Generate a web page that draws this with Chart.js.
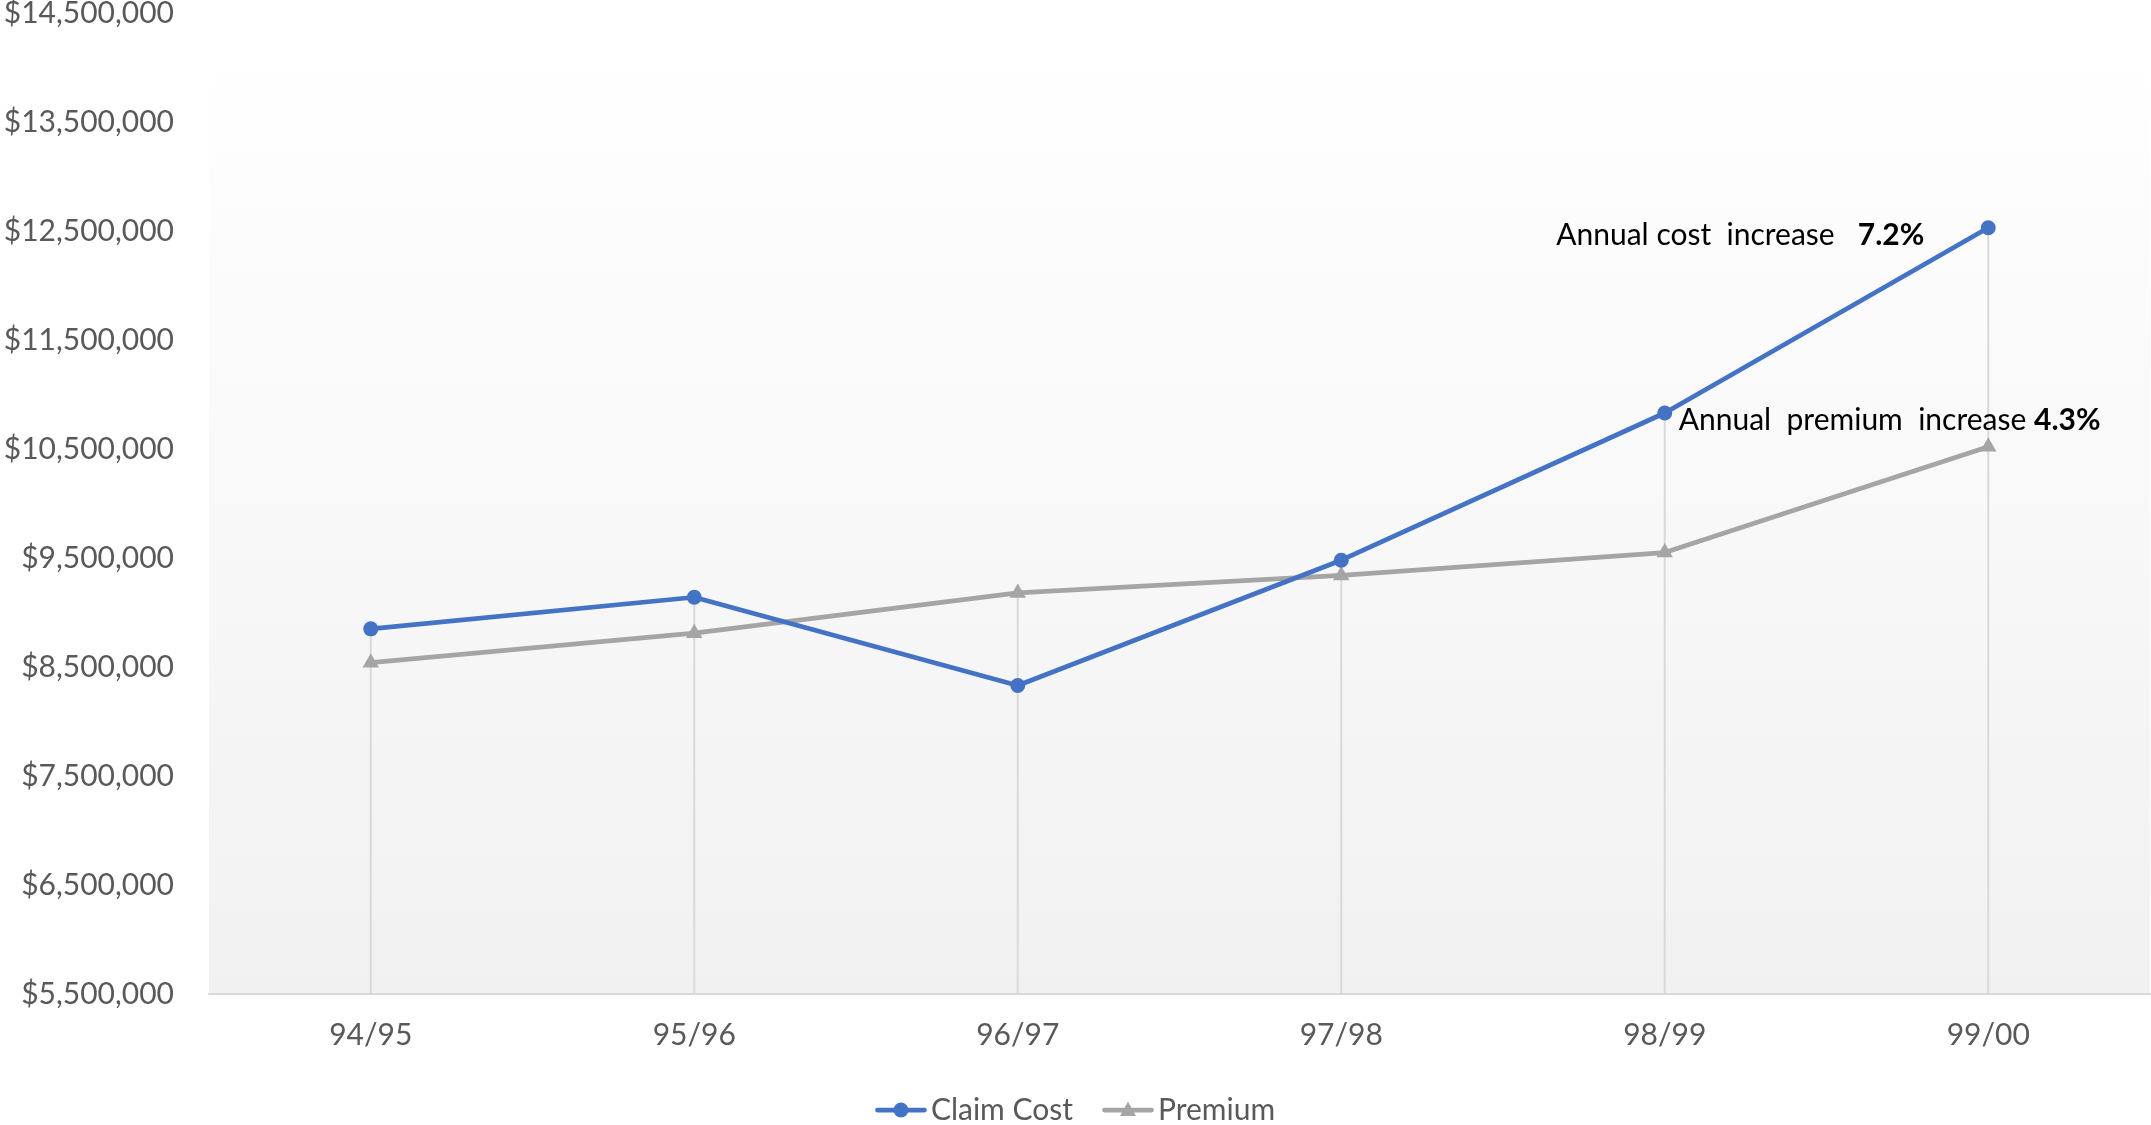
<!DOCTYPE html>
<html>
<head>
<meta charset="utf-8">
<script src="https://cdn.jsdelivr.net/npm/chart.js@4.4.1/dist/chart.umd.min.js"></script>
<style>
  html, body { margin: 0; padding: 0; background: #ffffff; }
  #wrap { width: 2151px; height: 1125px; position: relative; }
</style>
</head>
<body>
<div id="wrap"><canvas id="c" width="2151" height="1125"></canvas></div>
<script>
// ---- Data ----
const categories = ['94/95', '95/96', '96/97', '97/98', '98/99', '99/00'];
const claimCost = [8850000, 9140000, 8330000, 9480000, 10830000, 12530000];
const premium = [8540000, 8810000, 9180000, 9340000, 9550000, 10520000];
const seriesNames = ['Claim Cost', 'Premium'];
const yTickValues = [5500000, 6500000, 7500000, 8500000, 9500000, 10500000, 11500000, 12500000, 13500000, 14500000];
const costNote = ['Annual cost  increase   ', '7.2%'];
const premiumNote = ['Annual  premium  increase ', '4.3%'];

// ---- Styles ----
const BLUE = '#4472C4';
const GRAY = '#A5A5A5';
const FONT = 'Lato, "Open Sans", sans-serif';
const FS = 30;

function makeIcon(color, shape) {
  const c = document.createElement('canvas');
  c.width = 52; c.height = 22;
  const g = c.getContext('2d');
  g.strokeStyle = color; g.lineWidth = 4.75; g.lineCap = 'round';
  g.beginPath(); g.moveTo(2.5, 11); g.lineTo(49.5, 11); g.stroke();
  g.fillStyle = color;
  g.beginPath();
  if (shape === 'circle') {
    g.arc(26, 11, 7.5, 0, Math.PI * 2);
  } else {
    g.moveTo(26, 2.5); g.lineTo(34, 17); g.lineTo(18, 17); g.closePath();
  }
  g.fill();
  return c;
}
const legendIcons = [makeIcon(BLUE, 'circle'), makeIcon(GRAY, 'triangle')];

const bgPlugin = {
  id: 'bgGradient',
  afterLayout(chart) {
    if (chart.legend) { chart.legend.left += 5; chart.legend.right += 5; }
  },
  beforeDraw(chart) {
    const {ctx, chartArea: a} = chart;
    const grd = ctx.createLinearGradient(0, a.top, 0, a.bottom);
    grd.addColorStop(0, '#ffffff');
    grd.addColorStop(0.11, '#fefefe');
    grd.addColorStop(1, '#f1f1f1');
    ctx.save();
    ctx.fillStyle = grd;
    ctx.fillRect(a.left, a.top, a.right - a.left, a.bottom - a.top);
    ctx.restore();
  }
};

const dropLinePlugin = {
  id: 'dropLines',
  beforeDatasetsDraw(chart) {
    const {ctx, chartArea: a} = chart;
    const m0 = chart.getDatasetMeta(0).data;
    const m1 = chart.getDatasetMeta(1).data;
    ctx.save();
    ctx.strokeStyle = '#d9d9d9';
    ctx.lineWidth = 2;
    for (let i = 0; i < m0.length; i++) {
      const top = Math.min(m0[i].y, m1[i].y);
      ctx.beginPath();
      ctx.moveTo(m0[i].x, top);
      ctx.lineTo(m0[i].x, a.bottom);
      ctx.stroke();
    }
    ctx.restore();
  }
};

function drawRich(ctx, parts, x, y, align) {
  ctx.font = FS + 'px ' + FONT;
  const w0 = ctx.measureText(parts[0]).width;
  ctx.font = 'bold ' + FS + 'px ' + FONT;
  const w1 = ctx.measureText(parts[1]).width;
  const sx = align === 'right' ? x - (w0 + w1) : x;
  ctx.textBaseline = 'middle';
  ctx.textAlign = 'left';
  ctx.fillStyle = '#000000';
  ctx.font = FS + 'px ' + FONT;
  ctx.fillText(parts[0], sx, y);
  ctx.font = 'bold ' + FS + 'px ' + FONT;
  ctx.fillText(parts[1], sx + w0, y);
}

const notePlugin = {
  id: 'notes',
  afterDatasetsDraw(chart) {
    const {ctx} = chart;
    const d0 = chart.getDatasetMeta(0).data;
    const last = d0[d0.length - 1];
    const prev = d0[d0.length - 2];
    ctx.save();
    drawRich(ctx, costNote, last.x - 64, last.y + 8, 'right');
    drawRich(ctx, premiumNote, prev.x + 14, prev.y + 7, 'left');
    ctx.restore();
  }
};

new Chart(document.getElementById('c'), {
  type: 'line',
  data: {
    labels: categories,
    datasets: [
      {
        label: seriesNames[0], data: claimCost,
        borderColor: BLUE, backgroundColor: BLUE, borderWidth: 4.75,
        pointStyle: 'circle', pointRadius: 7.5, pointBorderWidth: 0,
        pointBackgroundColor: BLUE, pointBorderColor: BLUE,
        tension: 0, fill: false, borderCapStyle: 'round', borderJoinStyle: 'round'
      },
      {
        label: seriesNames[1], data: premium,
        borderColor: GRAY, backgroundColor: GRAY, borderWidth: 4.75,
        pointStyle: 'triangle', pointRadius: 9.5, pointBorderWidth: 0,
        pointBackgroundColor: GRAY, pointBorderColor: GRAY,
        tension: 0, fill: false, borderCapStyle: 'round', borderJoinStyle: 'round'
      }
    ]
  },
  options: {
    responsive: false,
    animation: false,
    devicePixelRatio: 1,
    layout: { autoPadding: false, padding: { left: 1, right: 1, top: 0, bottom: -10 } },
    scales: {
      x: {
        offset: true,
        grid: { display: false, drawTicks: false },
        border: { display: true, color: '#d9d9d9', width: 2 },
        ticks: { color: '#595959', font: { family: FONT, size: FS }, padding: 23, maxRotation: 0 },
        afterFit(scale) { scale.height = 61; }
      },
      y: {
        min: 5500000, max: 14500000,
        grid: { display: false, drawTicks: false },
        border: { display: false },
        afterBuildTicks(scale) { scale.ticks = yTickValues.map(v => ({ value: v })); },
        ticks: {
          color: '#595959', font: { family: FONT, size: FS, lineHeight: 0.95 }, padding: 35,
          callback: (v) => '$' + Number(v).toLocaleString('en-US')
        },
        afterFit(scale) {
          scale.width = 208;
          scale.paddingTop = 13;
          scale.paddingBottom = 13;
        }
      }
    },
    plugins: {
      legend: {
        position: 'bottom',
        labels: {
          color: '#595959', font: { family: FONT, size: FS }, padding: 40,
          usePointStyle: true, pointStyleWidth: 30,
          generateLabels(chart) {
            const items = Chart.defaults.plugins.legend.labels.generateLabels(chart);
            items.forEach((it, i) => { it.pointStyle = legendIcons[i]; });
            return items;
          }
        }
      },
      tooltip: { enabled: false }
    }
  },
  plugins: [bgPlugin, dropLinePlugin, notePlugin]
});
</script>
</body>
</html>
